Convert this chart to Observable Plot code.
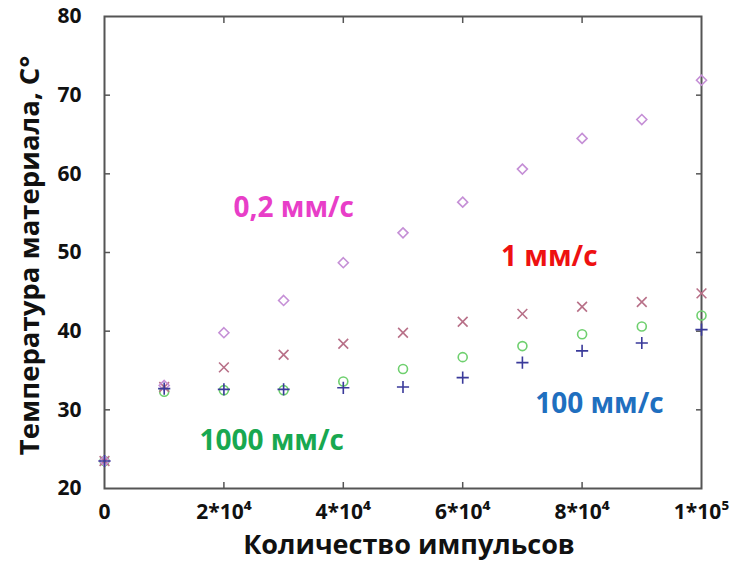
<!DOCTYPE html>
<html><head><meta charset="utf-8">
<script src="https://cdn.jsdelivr.net/npm/d3@7"></script>
<script src="https://cdn.jsdelivr.net/npm/@observablehq/plot@0.6"></script>
<style>body{margin:0;background:#fff;} svg{font-family:"Open Sans",sans-serif;}</style>
</head><body><div id="chart"></div>
<script>
const pulses = [0, 10000, 20000, 30000, 40000, 50000, 60000, 70000, 80000, 90000, 100000];
const v02   = [23.5, 33.1, 39.8, 43.9, 48.7, 52.5, 56.4, 60.6, 64.5, 66.9, 71.9];
const v1    = [23.5, 32.9, 35.4, 37.0, 38.4, 39.8, 41.2, 42.2, 43.1, 43.7, 44.8];
const v1000 = [23.5, 32.3, 32.5, 32.5, 33.6, 35.2, 36.7, 38.1, 39.6, 40.6, 42.0];
const v100  = [23.5, 32.7, 32.6, 32.6, 32.8, 32.9, 34.1, 36.0, 37.5, 38.5, 40.2];
const xTickLabels = ["0", "2*10⁴", "4*10⁴", "6*10⁴", "8*10⁴", "1*10⁵"];
const xTickValues = [0, 20000, 40000, 60000, 80000, 100000];
const yTickValues = [20, 30, 40, 50, 60, 70, 80];
const labels = [
  {text: "0,2 мм/с", x: 31700, y: 55.6, color: "#e83ec8"},
  {text: "1 мм/с", x: 74500, y: 49.4, color: "#ee1111"},
  {text: "100 мм/с", x: 82900, y: 30.8, color: "#1f6fbf"},
  {text: "1000 мм/с", x: 28000, y: 26.0, color: "#18a850"}
];
const series = [
  {vals: v1000, symbol: "circle", color: "#6fd06f", r: 4.5},
  {vals: v1, symbol: "times", color: "#b87088", r: 4.5},
  {vals: v02, symbol: "diamond2", color: "#c58fd6", r: 4.5},
  {vals: v100, symbol: "plus", color: "#3a3a9a", r: 4}
];
const rows = s => pulses.map((p, i) => ({x: p, y: s.vals[i]}));
const inner = [20000, 40000, 60000, 80000];
const innerY = [30, 40, 50, 60, 70];

const chart = Plot.plot({
  width: 736, height: 569,
  marginLeft: 104, marginRight: 35, marginTop: 16, marginBottom: 81,
  x: {domain: [0, 100000]},
  y: {domain: [20, 80]},
  marks: [
    Plot.axisX(inner, {anchor: "bottom", tickSize: 6, dy: -6, text: null, stroke: "#555", strokeWidth: 1.5, label: null}),
    Plot.axisX(inner, {anchor: "top", tickSize: 6, dy: 6, text: null, stroke: "#555", strokeWidth: 1.5, label: null}),
    Plot.axisY(innerY, {anchor: "left", tickSize: 6, dx: 6, text: null, stroke: "#555", strokeWidth: 1.5, label: null}),
    Plot.axisY(innerY, {anchor: "right", tickSize: 6, dx: -6, text: null, stroke: "#555", strokeWidth: 1.5, label: null}),
    Plot.axisX(xTickValues, {anchor: "bottom", tickSize: 0, tickPadding: 16, fontSize: 21, fontWeight: "bold", fill: "#111",
      tickFormat: d => xTickLabels[xTickValues.indexOf(d)], label: null}),
    Plot.axisY(yTickValues, {anchor: "left", tickSize: 0, tickPadding: 23, fontSize: 21, fontWeight: "bold", fill: "#111", label: null}),
    Plot.frame({stroke: "#555", strokeWidth: 2}),
    ...series.map(s => Plot.dot(rows(s), {x: "x", y: "y", symbol: () => s.symbol, r: s.r, stroke: s.color, strokeWidth: 1.6, fill: "none"})),
    Plot.text(labels, {x: "x", y: "y", text: "text", fill: "color", fontSize: 28, fontWeight: "bold"}),
    Plot.text(["Количество импульсов"], {frameAnchor: "bottom", dx: 6, dy: 65, fontSize: 27, fontWeight: "bold", fill: "#111"}),
    Plot.text(["Температура материала, С°"], {frameAnchor: "left", textAnchor: "middle", dx: -74, dy: 3, rotate: -90, fontSize: 27.5, fontWeight: "bold", fill: "#111"})
  ]
});
document.getElementById("chart").appendChild(chart);
</script>
</body></html>
